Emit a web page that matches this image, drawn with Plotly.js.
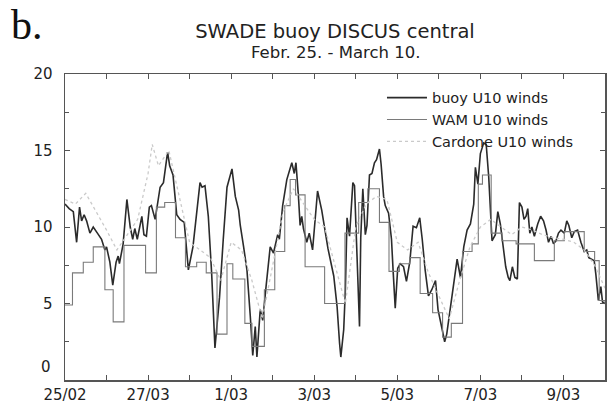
<!DOCTYPE html>
<html>
<head>
<meta charset="utf-8">
<script src="https://cdn.plot.ly/plotly-3.0.1.min.js"></script>
<style>html,body{margin:0;padding:0;background:#fff;}</style>
</head>
<body>
<div id="chart" style="width:614px;height:412px;"></div>
<script>
// Days since 25/02 00:00
const tickDays = [0, 2, 4, 6, 8, 10, 12];
const tickLabels = ["25/02", "27/03", "1/03", "3/03", "5/03", "7/03", "9/03"];
const yTickVals = [0, 5, 10, 15, 20];
const yTickText = ["", "5", "10", "15", "20"];

const buoyDay = [0.00,0.10,0.20,0.28,0.35,0.40,0.46,0.52,0.60,0.68,0.78,0.88,0.96,1.00,1.08,1.15,1.23,1.28,1.31,1.40,1.49,1.57,1.63,1.68,1.74,1.79,1.85,1.90,1.96,2.03,2.08,2.17,2.29,2.37,2.47,2.52,2.60,2.69,2.77,2.87,2.97,3.08,3.25,3.30,3.37,3.45,3.53,3.61,3.72,3.81,3.90,4.02,4.10,4.18,4.22,4.30,4.38,4.46,4.52,4.58,4.62,4.70,4.76,4.84,4.94,5.02,5.12,5.16,5.24,5.34,5.46,5.52,5.56,5.62,5.66,5.70,5.74,5.82,5.88,5.96,6.08,6.18,6.26,6.33,6.47,6.55,6.61,6.64,6.71,6.75,6.79,6.85,6.93,6.97,7.03,7.09,7.12,7.17,7.23,7.27,7.33,7.39,7.45,7.50,7.57,7.61,7.67,7.71,7.79,7.86,7.90,7.95,8.01,8.07,8.15,8.22,8.30,8.38,8.46,8.54,8.60,8.67,8.75,8.83,8.92,8.98,9.08,9.14,9.19,9.28,9.36,9.44,9.52,9.60,9.68,9.76,9.84,9.88,9.94,10.00,10.08,10.14,10.20,10.28,10.36,10.42,10.48,10.56,10.61,10.67,10.71,10.77,10.83,10.89,10.94,11.00,11.05,11.10,11.14,11.19,11.24,11.30,11.38,11.45,11.52,11.58,11.64,11.70,11.76,11.82,11.88,11.94,12.02,12.08,12.13,12.20,12.26,12.34,12.42,12.50,12.56,12.61,12.67,12.74,12.78,12.84,12.90,12.94,13.00];
const buoyU10 = [11.5,11.2,11.0,9.0,11.3,10.4,10.8,10.4,9.6,10.0,9.6,9.2,8.5,8.7,7.7,6.2,7.7,8.1,7.6,8.9,11.8,10.0,9.2,9.9,9.2,9.9,10.7,9.5,9.4,11.3,11.4,10.5,12.6,12.9,14.9,14.0,13.4,10.8,10.5,10.3,7.2,8.7,12.9,12.6,12.7,10.7,7.0,2.1,5.4,9.2,12.6,13.8,12.0,11.1,10.1,8.7,7.2,4.2,1.6,3.5,1.5,4.6,3.9,6.1,8.7,8.3,9.5,9.2,11.4,13.1,14.2,13.5,14.2,12.0,10.1,10.7,9.9,9.0,9.6,8.5,12.35,11.1,9.6,8.6,6.8,4.8,2.4,1.5,3.3,5.9,10.6,9.4,12.9,12.7,8.1,3.5,9.3,12.5,9.5,10.1,13.4,13.5,14.2,14.4,15.1,14.1,12.0,11.4,10.9,9.2,7.1,4.7,7.3,7.6,7.4,6.45,7.7,10.05,9.95,10.6,9.2,7.2,5.5,5.9,6.5,4.6,3.3,2.5,3.0,4.8,6.3,7.9,6.7,8.7,9.8,10.2,11.5,13.9,12.8,14.8,15.5,15.4,13.3,9.1,9.5,11.0,10.2,8.5,7.4,6.7,6.5,7.4,6.7,6.6,11.6,11.3,10.5,10.7,11.2,9.6,10.0,9.4,10.2,10.7,10.4,9.8,9.0,9.4,8.9,9.1,9.6,9.8,9.6,10.4,10.1,9.3,9.7,9.8,9.0,8.4,8.5,8.0,7.9,7.8,6.9,5.2,6.1,5.1,5.0];

const wamDay = [0.00,0.18,0.44,0.68,0.96,1.16,1.42,1.94,2.20,2.40,2.66,2.90,3.17,3.40,3.66,3.90,4.04,4.33,4.50,4.80,5.05,5.29,5.42,5.55,5.78,6.25,6.74,7.07,7.29,7.57,7.80,8.05,8.30,8.55,8.85,9.09,9.30,9.57,9.80,9.95,10.05,10.26,10.52,10.86,11.30,11.78,12.02,12.28,12.50,12.75,12.86,13.00];
const wamU10 = [4.9,7.0,7.7,8.7,5.9,3.8,8.8,7.0,11.3,11.6,9.3,7.4,7.7,7.0,3.0,7.6,6.6,3.7,2.2,5.9,8.4,11.4,13.1,12.1,7.4,5.0,9.6,11.6,12.5,10.3,7.1,7.6,8.0,5.65,4.4,2.8,3.7,8.4,8.9,12.8,13.4,9.6,9.1,8.9,7.8,9.1,9.7,9.7,8.4,7.8,5.2,5.0];

const cardDay = [0.0,0.25,0.5,0.75,1.0,1.25,1.5,1.75,2.0,2.1,2.25,2.5,2.75,3.0,3.25,3.5,3.75,4.0,4.25,4.5,4.75,5.0,5.25,5.5,5.75,6.0,6.25,6.5,6.75,7.0,7.25,7.5,7.75,8.0,8.25,8.5,8.75,9.0,9.25,9.5,9.75,10.0,10.25,10.5,10.75,11.0,11.25,11.5,11.75,12.0,12.25,12.5,12.75,13.0];
const cardU10 = [11.8,11.5,12.2,11.0,9.8,8.5,9.5,10.5,13.5,15.4,14.0,15.0,12.0,9.0,8.5,8.0,6.5,9.0,8.5,6.5,4.0,7.5,11.0,12.5,11.5,10.5,10.0,7.5,5.0,10.0,11.5,12.0,11.8,9.0,8.5,9.0,7.0,5.5,4.0,6.5,8.7,10.0,10.5,10.0,9.5,10.0,9.8,9.5,9.3,9.2,9.0,8.5,7.5,6.0];

const fontMain = "DejaVu Sans, Liberation Sans, Arial, sans-serif";

const traces = [
  {x: buoyDay, y: buoyU10, mode: "lines", name: "buoy U10 winds",
   line: {color: "#2b2b2b", width: 1.6}},
  {x: wamDay, y: wamU10, mode: "lines", name: "WAM U10 winds",
   line: {color: "#7a7a7a", width: 1.1, shape: "hv"}},
  {x: cardDay, y: cardU10, mode: "lines", name: "Cardone U10 winds",
   line: {color: "#cacaca", width: 1.3, dash: "dot"}}
];

const axisCommon = {
  showgrid: false, zeroline: false, showline: true, linecolor: "#555", linewidth: 1.5,
  mirror: "ticks", ticks: "inside", ticklen: 5, tickwidth: 1, tickcolor: "#555",
  tickfont: {family: fontMain, size: 15, color: "#222"}
};

const layout = {
  width: 614, height: 412,
  margin: {l: 65, r: 9, t: 74, b: 32},
  paper_bgcolor: "#fff", plot_bgcolor: "#fff",
  font: {family: fontMain, color: "#222"},
  title: {text: "SWADE buoy DISCUS central", font: {family: fontMain, size: 19.5, color: "#222"},
          x: 0.5, xref: "paper", xanchor: "center", y: 1 - 31/412, yref: "container", yanchor: "middle"},
  xaxis: Object.assign({}, axisCommon, {
    range: [0, 13], tickvals: tickDays, ticktext: tickLabels, ticklabelstandoff: 0,
    minor: {dtick: 1, tick0: 0, ticks: "inside", ticklen: 5, tickcolor: "#555"}
  }),
  yaxis: Object.assign({}, axisCommon, {
    range: [0, 20], tickvals: yTickVals, ticktext: yTickText, ticklabelstandoff: 8,
    minor: {dtick: 2.5, tick0: 0, ticks: "inside", ticklen: 4, tickcolor: "#555"}
  }),
  showlegend: true,
  legend: {x: 0.587, xanchor: "left", y: 0.975, yanchor: "top", bgcolor: "rgba(0,0,0,0)",
           font: {family: fontMain, size: 14.5, color: "#222"}, tracegroupgap: 0, itemwidth: 40},
  annotations: [
    {text: "Febr. 25. - March 10.", xref: "paper", yref: "paper", x: 0.5, y: (380 - 52) / 306, xanchor: "center", yanchor: "middle",
     showarrow: false, font: {family: fontMain, size: 16.5, color: "#222"}},
    {text: "0", xref: "paper", yref: "paper", x: -0.022, y: (380 - 367) / 306, xanchor: "right", yanchor: "middle",
     showarrow: false, font: {family: fontMain, size: 15, color: "#222"}},
    {text: "b.", xref: "paper", yref: "paper", x: (9 - 65) / 540, y: (380 - 25) / 306, xanchor: "left", yanchor: "middle",
     showarrow: false, font: {family: "Liberation Serif, Times New Roman, serif", size: 42, color: "#111"}}
  ]
};

Plotly.newPlot("chart", traces, layout, {displayModeBar: false, staticPlot: true});
</script>
</body>
</html>
